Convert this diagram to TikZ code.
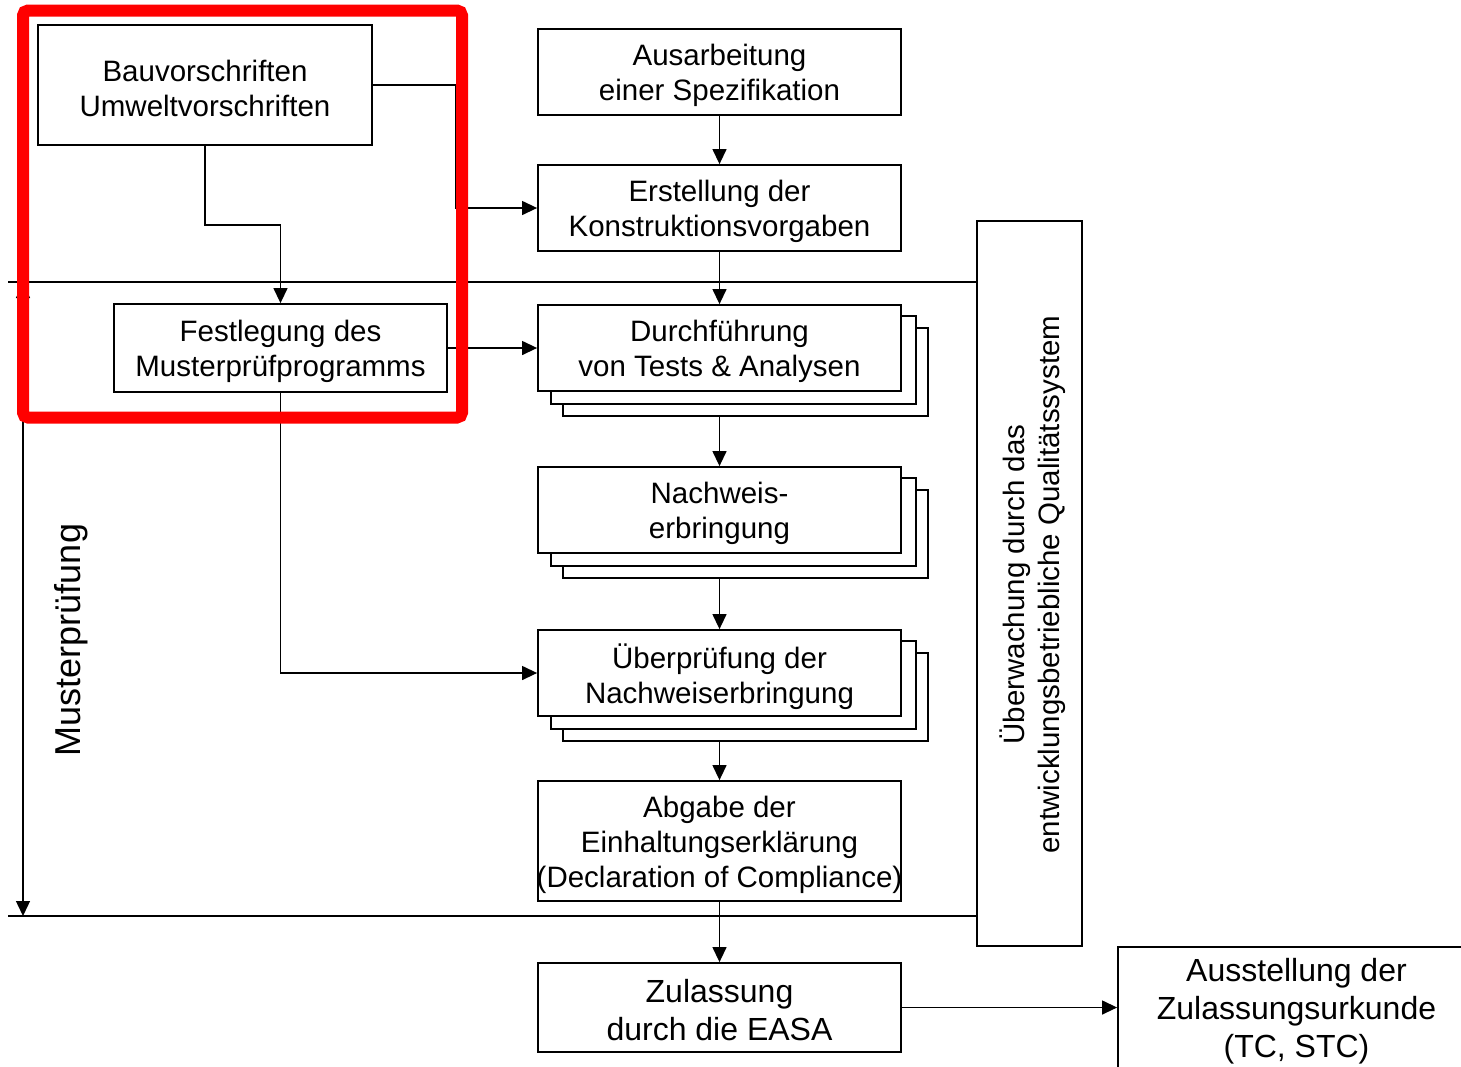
\documentclass[tikz,border=0pt]{standalone}
\usepackage{fontspec}
\setmainfont{Liberation Sans}
\usetikzlibrary{arrows.meta,backgrounds}
\begin{document}
\begin{tikzpicture}[x=1pt,y=-1pt,
  box/.style={draw=black,line width=1.8pt,fill=white,rectangle,inner sep=0pt},
  txt/.style={inner sep=0pt,align=center,font=\fontsize{29.5}{35}\selectfont},
  bigtxt/.style={txt,font=\fontsize{32}{38}\selectfont},
  conn/.style={draw=black,line width=1.3pt,-{Triangle[length=15pt,width=14pt]}},
  sep/.style={draw=black,line width=1.8pt},
  shadowbox/.style={draw=black,line width=1.8pt,fill=white}]
\clip (0,0) rectangle (1461,1066);

% boxes
\node[box,minimum width=334pt,minimum height=120pt] (bau) at (205,85) {};
\node[txt] (baut) at ([yshift=-3pt]bau.center) {Bauvorschriften\\Umweltvorschriften};
\node[box,minimum width=333pt,minimum height=88pt] (fest) at (280.5,348) {};
\node[txt] (festt) at ([yshift=-3.5pt]fest.center) {Festlegung des\\Musterprüfprogramms};
\node[box,minimum width=363pt,minimum height=86pt] (aus) at (719.5,72) {};
\node[txt] (aust) at ([yshift=-3.5pt]aus.center) {Ausarbeitung\\einer Spezifikation};
\node[box,minimum width=363pt,minimum height=86pt] (erst) at (719.5,208) {};
\node[txt] (erstt) at ([yshift=-3.5pt]erst.center) {Erstellung der\\Konstruktionsvorgaben};
\node[box,minimum width=363pt,minimum height=86pt] (durch) at (719.5,348) {};
\node[txt] (durcht) at ([yshift=-3.5pt]durch.center) {Durchführung\\von Tests \& Analysen};
\node[box,minimum width=363pt,minimum height=86pt] (nach) at (719.5,510) {};
\node[txt] (nacht) at ([yshift=-3.5pt]nach.center) {Nachweis-\\erbringung};
\node[box,minimum width=363pt,minimum height=86pt] (ueber) at (719.5,673) {};
\node[txt] (uebert) at ([yshift=-3.5pt]ueber.center) {Überprüfung der\\Nachweiserbringung};
\node[box,minimum width=363pt,minimum height=120pt] (abg) at (719.5,841) {};
\node[txt] (abgt) at ([yshift=-3.5pt]abg.center) {Abgabe der\\Einhaltungserklärung\\(Declaration of Compliance)};
\node[box,minimum width=363pt,minimum height=89pt] (zul) at (719.5,1007.5) {};
\node[bigtxt] (zult) at ([yshift=-3pt]zul.center) {Zulassung\\durch die EASA};
\node[box,minimum width=357pt,minimum height=124pt] (ausst) at (1296.5,1009) {};
\node[bigtxt] (ausstt) at ([yshift=-2.5pt]ausst.center) {Ausstellung der\\Zulassungsurkunde\\(TC, STC)};
\node[box,minimum width=105pt,minimum height=725pt] (uebw) at (1029.5,583.5) {};
\node[txt,rotate=90] (uebwt) at ([xshift=3.5pt,yshift=-1pt]uebw.center)
  {Überwachung durch das\\entwicklungsbetriebliche Qualitätssystem};
\node[rotate=90,inner sep=0pt,font=\fontsize{36}{42}\selectfont] (muster) at (71,640) {Musterprüfung};

% stacked copies
\begin{scope}[on background layer]
\foreach \n in {durch,nach,ueber}{
  \draw[shadowbox] ([shift={(26,24)}]\n.south west) rectangle ([shift={(26,24)}]\n.north east);
  \draw[shadowbox] ([shift={(14,12)}]\n.south west) rectangle ([shift={(14,12)}]\n.north east);
}
\end{scope}

% separating lines
\coordinate (s1l) at (8,282);
\coordinate (s2l) at (8,916);
\draw[sep] (s1l) -- (s1l -| uebw.west);
\draw[sep] (s2l) -- (s2l -| uebw.west);

% left double arrow
\coordinate (lt) at (23,283);
\coordinate (lb) at (23,916);
\draw[conn,{Triangle[length=15pt,width=14pt]}-{Triangle[length=15pt,width=14pt]}] (lt) -- (lb);

% connectors
\draw[conn] (aus.south) -- (erst.north);
\draw[conn] (erst.south) -- (durch.north);
\draw[conn] ([yshift=-24pt]durch.south) -- (nach.north);
\draw[conn] ([yshift=-24pt]nach.south) -- (ueber.north);
\draw[conn] ([yshift=-24pt]ueber.south) -- (abg.north);
\draw[conn] (abg.south) -- (zul.north);
\draw[conn] (zul.east) -- (zul.east -| ausst.west);
\draw[conn] (bau.east) -- ++(83,0) |- (erst.west);
\draw[conn] (bau.south) -- ++(0,79) -| (fest.north);
\draw[conn] (fest.east) -- (durch.west);
\draw[conn] (fest.south) |- (ueber.west);

% red highlight
\draw[draw={rgb,255:red,255;green,0;blue,0},line width=12pt,rounded corners=5pt] (23,10.5) rectangle (462,417.5);
\end{tikzpicture}
\end{document}
